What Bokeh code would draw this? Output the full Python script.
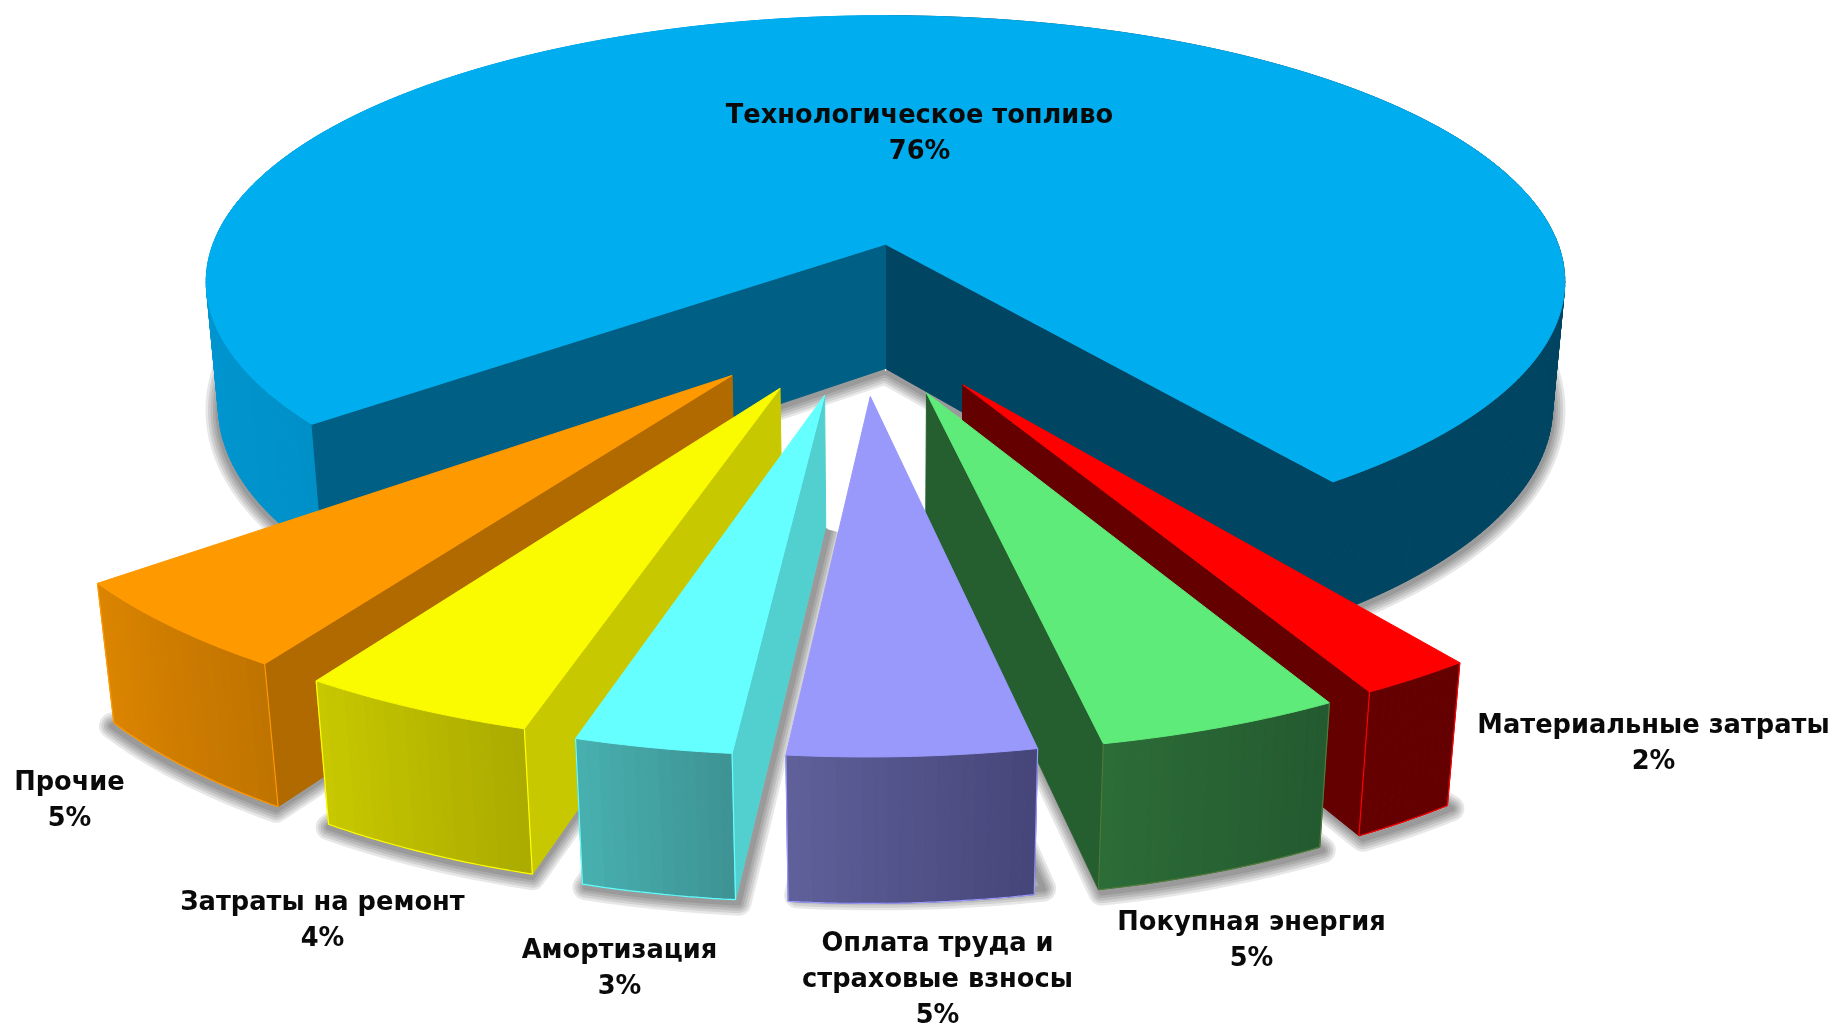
import numpy as np
from bokeh.plotting import figure
from bokeh.models import ColumnDataSource
from bokeh.core.properties import value
from bokeh.embed import file_html
from bokeh.resources import INLINE

# ---- data
names = ["Технологическое топливо", "Прочие", "Затраты на ремонт", "Амортизация",
         "Оплата труда и\nстраховые взносы", "Покупная энергия", "Материальные затраты"]
percent_labels = ["76%", "5%", "4%", "3%", "5%", "5%", "2%"]
shares = [75.8, 5.1, 4.55, 3.0, 4.7, 4.65, 2.2]   # slice sizes measured from the wedges

# ---- style / layout
W, H_PX = 1837, 1028
top_colors = ["#00AEEF", "#FF9900", "#FAFA00", "#66FFFF", "#9999FB", "#5FEB79", "#FF0000"]
face_colors = {"start": ["#004562", "#B06A00", "#C8C800", "#52D0D0", "#46467A", "#255F30", "#650000"],
               "end":   ["#005F85", "#B06A00", "#C8C800", "#52D0D0", "#5F5F9A", "#255F30", "#650000"]}
rim_from = ["#009BD8", "#DB8400", "#C8C800", "#48AFAF", "#5F5F9A", "#2C6C37", "#650000"]
rim_to   = ["#0090C8", "#C07400", "#ABAB00", "#3E9494", "#46467A", "#245A30", "#650000"]
edge_colors = [None, "#FF9900", "#FFFF00", "#66FFFF", "#9999FF", "#4F7A3A", "#FF0000"]
explode_x = [0.0, -0.213, -0.1455, -0.0837, -0.0209, 0.0564, 0.1069]
explode_z = [0.0, 0.47, 0.5128, 0.536, 0.5398, 0.5283, 0.5012]
shadow_dx = [0, -2, 0, 3, 9, 3, 4]
shadow_dy = [3, 3, 3, 3, -6, 3, 3]
paint_order = [0, 1, 2, 3, 6, 5, 4]
first_slice_end_angle = -51.0
label_x = [919, 69, 322, 619, 937, 1251, 1653]
label_y = [113, 780, 900, 948, 941, 920, 723]
LINE_GAP = 36

# perspective camera
CX, CY, A, B, K, M, H = 885.0, 243.7, 672.5, 260.7, 0.141, 0.018, 126.5


def project(X, Z, depth=0.0):
    w = 1 - K * Z + M * depth
    return CX + A * X / w, CY + (B * Z + H * depth) / w


def lerp(c0, c1, t):
    a = [int(c0[i:i + 2], 16) for i in (1, 3, 5)]
    b = [int(c1[i:i + 2], 16) for i in (1, 3, 5)]
    return "#%02X%02X%02X" % tuple(round(a[i] + (b[i] - a[i]) * t) for i in range(3))


p = figure(width=W, height=H_PX, x_range=(0, W), y_range=(H_PX, 0),
           x_axis_type=None, y_axis_type=None, toolbar_location=None,
           output_backend="svg", min_border=0, outline_line_color=None,
           background_fill_color="white", border_fill_color="white")
p.grid.visible = False
p.styles = {"position": "fixed", "left": "0", "top": "0"}

# slice angle limits, all in 0..360 for the first slice
totals = np.cumsum([0.0] + shares) * 3.6
offset = first_slice_end_angle - totals[1] + 360
starts = totals[:-1] + offset
ends = totals[1:] + offset

shadow_xs, shadow_ys = [], []
layers = []

for i in paint_order:
    faces = dict(xs=[], ys=[], color=[])

    def add_face(xs, ys, color):
        faces["xs"].append(list(xs))
        faces["ys"].append(list(ys))
        faces["color"].append(color)

    a0, a1 = np.radians(starts[i]), np.radians(ends[i])
    ox, oz = explode_x[i], explode_z[i]
    n = max(12, int(round((ends[i] - starts[i]) * 1.2)))
    th = np.linspace(a0, a1, n + 1)
    X = ox + np.sin(th)
    Z = oz + np.cos(th)
    tx, ty = project(X, Z, 0)
    bx, by = project(X, Z, 1)
    ax0, ay0 = project(ox, oz, 0)
    ax1, ay1 = project(ox, oz, 1)

    # shadow under the slice
    shadow_xs.append((np.r_[ax1, bx, ax1] + shadow_dx[i]).tolist())
    shadow_ys.append((np.r_[ay1, by, ay1] + shadow_dy[i]).tolist())

    # rim, segment by segment, for the colour ramp
    deg = np.degrees(th)
    for j in range(n):
        if i == 0:
            mid = (deg[j] + deg[j + 1]) / 2
            if mid < 180:
                col = "#004562"
            else:
                col = lerp(rim_from[0], rim_to[0], max(0.0, (mid - 260) / (ends[0] - 260)))
        else:
            col = lerp(rim_from[i], rim_to[i], j / max(n - 1, 1))
        add_face([tx[j], tx[j + 1], bx[j + 1], bx[j]], [ty[j], ty[j + 1], by[j + 1], by[j]], col)

    # radial faces: only the one seen from the camera
    m = n // 2
    for idx, side in ((0, "start"), (n, "end")):
        ex, ey = tx[idx] - ax0, ty[idx] - ay0
        s_mid = ex * (ty[m] - ay0) - ey * (tx[m] - ax0)
        s_low = ex * (by[idx] - ay0) - ey * (bx[idx] - ax0)
        if s_mid * s_low < 0:
            add_face([ax0, tx[idx], bx[idx], ax1], [ay0, ty[idx], by[idx], ay1], face_colors[side][i])

    # top surface
    add_face(np.r_[ax0, tx], np.r_[ay0, ty], top_colors[i])

    edge = None
    if edge_colors[i]:
        edge = ([tx[0]] + bx.tolist() + [tx[-1]], [ty[0]] + by.tolist() + [ty[-1]], edge_colors[i])
    layers.append((ColumnDataSource(faces), edge))

# shadows first, on the white ground only
for lw in (26, 21, 16, 11, 6):
    p.multi_line(shadow_xs, shadow_ys, line_color="#000000",
                 line_alpha=0.095, line_width=lw, line_join="round")

for src, edge in layers:
    p.patches("xs", "ys", source=src, fill_color="color", line_color="color", line_width=1)
    if edge:
        p.line(edge[0], edge[1], line_color=edge[2], line_width=1.2)

# labels
tx_, ty_, tt_ = [], [], []
for name, pct, lx, ly in zip(names, percent_labels, label_x, label_y):
    for k, line in enumerate(name.split("\n") + [pct]):
        tx_.append(lx)
        ty_.append(ly + k * LINE_GAP)
        tt_.append(line)
p.text(tx_, ty_, text=tt_, text_align="center", text_baseline="middle",
       text_font=value("DejaVu Sans"), text_font_style="bold", text_font_size="25.7px",
       text_color="#0A0A0A")

open("out.html", "w").write(file_html(p, INLINE))
